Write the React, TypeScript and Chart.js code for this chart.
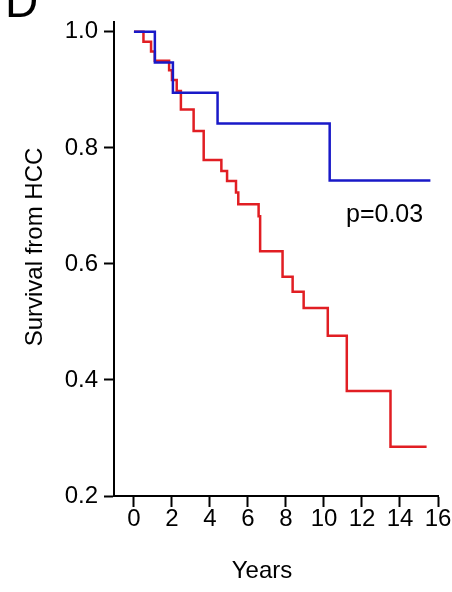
import React, { useEffect, useRef } from "react";
import { Chart, registerables } from "chart.js";

Chart.register(...registerables);

// Kaplan–Meier steps: time (years) and survival after the drop at that time
const blueTimes = [0, 1.1, 2.05, 4.4, 10.3, 15.6];
const blueSurv = [1.0, 0.947, 0.895, 0.842, 0.744, 0.744];

const redTimes = [0, 0.5, 0.9, 1.1, 1.85, 2.0, 2.25, 2.47, 3.14, 3.67, 4.6, 4.9, 5.37, 5.49, 6.56, 6.64, 7.82, 8.35, 8.93, 10.2, 11.2, 13.5, 15.4];
const redSurv = [1.0, 0.983, 0.966, 0.95, 0.934, 0.917, 0.898, 0.866, 0.829, 0.779, 0.76, 0.743, 0.723, 0.703, 0.682, 0.622, 0.578, 0.552, 0.524, 0.476, 0.381, 0.285, 0.285];

const xTicks = [0, 2, 4, 6, 8, 10, 12, 14, 16];
const yTicks = [0.2, 0.4, 0.6, 0.8, 1.0];

const xTitle = "Years";
const yTitle = "Survival from HCC";
const panelLabel = "D";
const pLabel = "p=0.03";

const FONT = "'Liberation Sans', Arial, sans-serif";

export default function App() {
  const ref = useRef<HTMLCanvasElement>(null);

  useEffect(() => {
    if (!ref.current) return;
    const textPlugin = {
      id: "extraText",
      afterDraw(chart: any) {
        const ctx = chart.ctx;
        ctx.save();
        ctx.fillStyle = "#000";
        ctx.font = `46px ${FONT}`;
        ctx.textAlign = "left";
        ctx.textBaseline = "alphabetic";
        ctx.fillText(panelLabel, 5, 17);
        ctx.font = `25px ${FONT}`;
        ctx.fillText(pLabel, 346, 222);
        ctx.textAlign = "center";
        ctx.font = `24px ${FONT}`;
        ctx.fillText(xTitle, 262, 578);
        ctx.translate(35, 247);
        ctx.rotate(-Math.PI / 2);
        ctx.textBaseline = "middle";
        ctx.fillText(yTitle, 0, 0);
        ctx.restore();
      },
    };
    const chart = new Chart(ref.current, {
      type: "line",
      data: {
        datasets: [
          {
            label: "blue",
            data: blueTimes.map((t, i) => ({ x: t, y: blueSurv[i] })),
            borderColor: "rgb(25,25,200)",
            borderWidth: 2.5,
            pointRadius: 0,
            stepped: "before",
            fill: false,
          },
          {
            label: "red",
            data: redTimes.map((t, i) => ({ x: t, y: redSurv[i] })),
            borderColor: "rgb(225,30,35)",
            borderWidth: 2.5,
            pointRadius: 0,
            stepped: "before",
            fill: false,
          },
        ],
      },
      options: {
        responsive: false,
        animation: false,
        layout: { padding: { left: 0, top: 22, right: 14, bottom: 0 } },
        plugins: { legend: { display: false }, tooltip: { enabled: false } },
        scales: {
          x: {
            type: "linear",
            min: -1.05,
            max: 16,
            afterBuildTicks: (s: any) => {
              s.ticks = xTicks.map((v) => ({ value: v }));
            },
            afterFit: (s: any) => {
              s.height = 96;
            },
            border: { display: true, color: "#000", width: 2 },
            grid: { drawOnChartArea: false, drawTicks: true, tickLength: 11, tickWidth: 2, tickColor: "#000" },
            ticks: { color: "#000", font: { family: FONT, size: 24 }, padding: -2, maxRotation: 0, autoSkip: false },
          },
          y: {
            type: "linear",
            min: 0.2,
            max: 1.017,
            afterBuildTicks: (s: any) => {
              s.ticks = yTicks.map((v) => ({ value: v }));
            },
            afterFit: (s: any) => {
              s.width = 114;
            },
            border: { display: true, color: "#000", width: 2 },
            grid: { drawOnChartArea: false, drawTicks: true, tickLength: 10, tickWidth: 2, tickColor: "#000" },
            ticks: {
              color: "#000",
              font: { family: FONT, size: 24 },
              padding: 6,
              callback: (v: any) => Number(v).toFixed(1),
            },
          },
        },
      },
      plugins: [textPlugin],
    });
    return () => chart.destroy();
  }, []);

  return (
    <canvas
      ref={ref}
      width={452}
      height={592}
      style={{ position: "absolute", left: 0, top: 0, width: 452, height: 592 }}
    />
  );
}
